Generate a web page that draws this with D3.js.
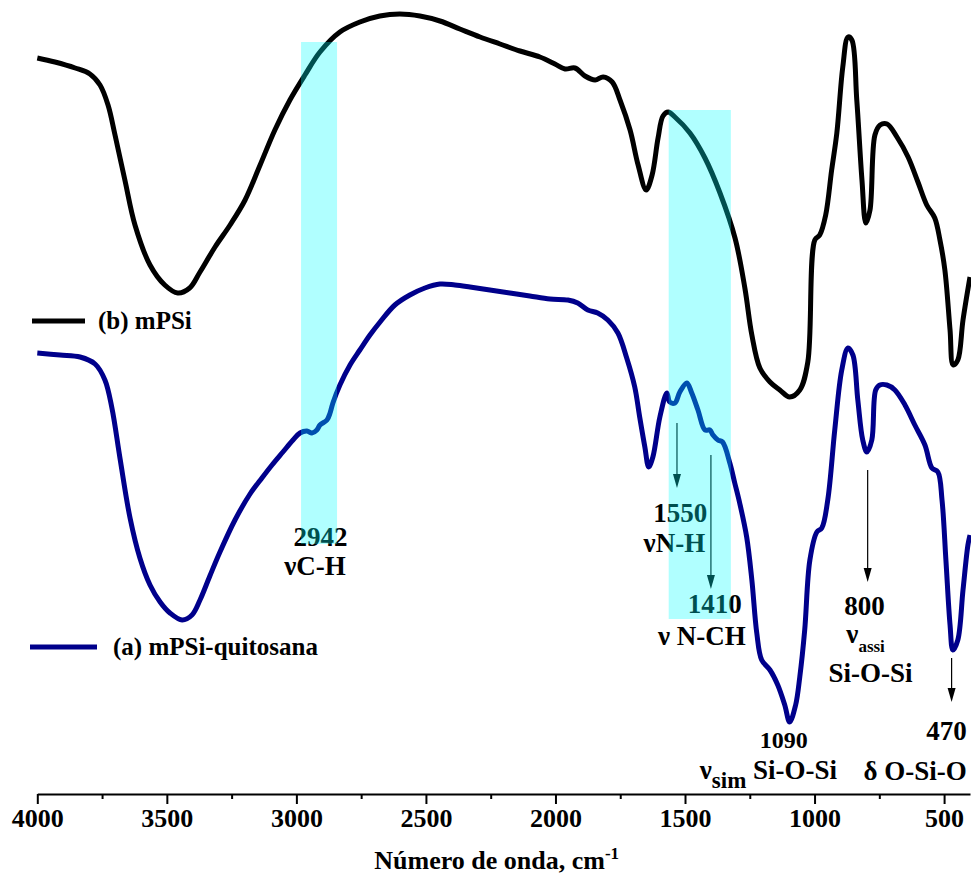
<!DOCTYPE html>
<html>
<head>
<meta charset="utf-8">
<script src="https://cdn.jsdelivr.net/npm/d3@7"></script>
<style>
  body { margin: 0; background: #fff; }
  svg text { font-family: "Liberation Serif", "Times New Roman", serif; font-weight: bold; }
</style>
</head>
<body>
<div id="chart"></div>
<script>
// wavenumber (cm-1) and transmittance (a.u.)
const wnB = [4000,3932,3854,3797,3758,3727,3700,3662,3623,3565,3508,3458,3412,3372,3314,3256,3198,3140,3083,3025,2967,2909,2832,2755,2678,2601,2523,2446,2369,2291,2214,2137,2060,2002,1963,1925,1886,1847,1816,1781,1751,1712,1681,1650,1627,1604,1585,1565,1539,1481,1423,1365,1307,1269,1242,1211,1172,1134,1096,1057,1026,999,980,957,934,914,891,871,856,837,817,802,786,767,747,720,682,639,601,567,536,516,497,477,465,447,427,400];
const tB = [73.6,73.2,72.6,72.0,70.9,68.9,65.9,61.4,56.9,52.9,50.9,50.1,50.6,52.2,54.7,56.9,59.4,62.9,66.4,69.4,71.9,74.2,76.2,77.2,77.8,78.0,77.8,77.3,76.5,75.7,75.0,74.3,73.7,73.0,72.5,72.6,71.8,71.4,71.7,71.2,69.4,66.4,62.9,60.4,61.9,65.6,67.8,68.2,67.7,66.1,63.6,60.1,55.6,50.6,45.9,42.6,41.2,40.4,39.7,40.4,43.2,55.4,55.9,57.9,62.4,66.1,72.7,75.7,75.4,69.4,61.4,57.1,58.4,65.9,66.9,67.0,65.7,63.7,61.2,58.9,57.6,55.4,52.4,46.4,42.9,43.4,47.4,51.7];

const wnA = [4000,3912,3835,3777,3739,3712,3681,3642,3604,3565,3526,3488,3441,3403,3372,3334,3295,3237,3179,3133,3094,3052,3013,2986,2959,2940,2921,2909,2882,2870,2859,2832,2793,2755,2716,2677,2620,2562,2504,2446,2388,2330,2253,2176,2099,2021,1952,1914,1875,1837,1798,1759,1725,1694,1675,1655,1640,1624,1597,1570,1559,1539,1520,1493,1474,1450,1423,1404,1392,1373,1355,1327,1308,1289,1262,1242,1223,1204,1172,1142,1115,1096,1073,1057,1038,1018,991,972,949,922,895,871,852,833,814,798,779,764,748,721,690,651,613,574,547,524,508,493,477,466,447,427,408,400];
const tA = [44.1,43.9,43.7,43.0,41.4,38.6,33.6,27.6,23.6,20.9,19.2,18.1,17.4,17.9,19.4,21.8,24.2,27.4,30.0,31.6,32.9,34.2,35.4,36.1,36.3,36.1,36.4,36.9,37.4,38.1,39.1,40.9,42.9,44.4,45.9,47.2,48.9,49.9,50.6,51.0,50.9,50.7,50.4,50.1,49.8,49.5,49.4,49.1,48.4,48.1,47.4,46.1,43.6,40.7,37.7,34.7,32.7,33.7,37.7,40.1,39.2,39.1,40.2,41.1,40.1,38.4,36.4,36.4,35.9,35.4,35.2,33.1,31.1,29.1,25.7,21.4,16.1,13.4,12.4,10.9,8.9,7.2,8.9,11.7,16.4,23.4,26.2,26.6,29.4,36.4,42.4,44.6,43.9,39.4,35.4,34.2,35.4,40.4,40.9,40.9,40.4,38.9,36.9,34.9,32.6,32.2,29.4,23.4,16.9,14.4,15.4,20.4,24.9,25.9];

const majorTicks = [4000,3500,3000,2500,2000,1500,1000,500];
const minorTicks = [3750,3250,2750,2250,1750,1250,750];

// highlighted bands [from, to, bottom, top]
const bands = [[2982, 2843, 25.0, 75.2], [1563, 1323, 17.5, 68.4]];

// arrows: wavenumber, start value, tip value
const arrows = [[1531, 37.1, 30.6], [1400, 33.9, 20.5], [795, 32.4, 21.2], [471, 13.6, 9.2]];

// labels: wavenumber (centre), value (baseline), size, main text, subscript, sub size, rest
const labels = [
  [2907, 24.8, 27, "2942", "", 0, ""],
  [2928, 21.9, 27, "\u03bdC-H", "", 0, ""],
  [1518, 27.2, 27, "1550", "", 0, ""],
  [1541, 24.2, 27, "\u03bdN-H", "", 0, ""],
  [1385, 18.1, 27, "1410", "", 0, ""],
  [1435, 14.9, 27, "\u03bd N-CH", "", 0, ""],
  [807, 17.9, 27, "800", "", 0, ""],
  [803, 15.1, 27, "\u03bd", "assi", 17, ""],
  [784, 11.2, 27, "Si-O-Si", "", 0, ""],
  [1119, 4.6, 24, "1090", "", 0, ""],
  [1178, 1.5, 27, "\u03bd", "sim", 23, " Si-O-Si"],
  [491, 5.4, 27, "470", "", 0, ""],
  [612, 1.4, 27, "\u03b4 O-Si-O", "", 0, ""]
];

const width = 971, height = 880;
const svg = d3.select('#chart').append('svg')
  .attr('width', width).attr('height', height);

const x = d3.scaleLinear().domain([4000, 400]).range([37.3, 970]);
const y = d3.scaleLinear().domain([0, 78]).range([794, 14]);

const line = d3.line()
  .x(d => x(d[0])).y(d => y(d[1]))
  .curve(d3.curveCatmullRom.alpha(0.5));

svg.append('path')
  .datum(d3.zip(wnB, tB))
  .attr('d', line)
  .attr('fill', 'none').attr('stroke', '#000').attr('stroke-width', 5)
  .attr('stroke-linejoin', 'round');

svg.append('path')
  .datum(d3.zip(wnA, tA))
  .attr('d', line)
  .attr('fill', 'none').attr('stroke', '#00008b').attr('stroke-width', 5)
  .attr('stroke-linejoin', 'round');

// axis
const axis = svg.append('g').attr('transform', 'translate(0,794)')
  .call(d3.axisBottom(x).tickValues(majorTicks).tickFormat(d3.format('d'))
    .tickSize(10).tickSizeOuter(0).tickPadding(5));
axis.select('.domain').attr('stroke-width', 2);
axis.selectAll('.tick line').attr('stroke-width', 2);
axis.selectAll('.tick text').attr('font-size', 26).attr('font-family', '"Liberation Serif", serif')
  .attr('font-weight', 'bold').attr('fill', '#000');

svg.append('g').attr('transform', 'translate(0,794)')
  .call(d3.axisBottom(x).tickValues(minorTicks).tickSize(5).tickSizeOuter(0).tickFormat(''))
  .call(g => g.select('.domain').remove())
  .call(g => g.selectAll('.tick line').attr('stroke-width', 2));

const title = svg.append('text')
  .attr('x', (x(4000) + x(400)) / 2 - 7).attr('y', 869)
  .attr('text-anchor', 'middle').attr('font-size', 26);
title.append('tspan').text('Número de onda, cm');
title.append('tspan').attr('dy', -10).attr('font-size', 17).text('-1');

// legend
const legend = [["(b) mPSi", "#000", 32, 85, 321, 98], ["(a) mPSi-quitosana", "#00008b", 30, 97, 647, 113]];
legend.forEach(l => {
  svg.append('line').attr('x1', l[2]).attr('x2', l[3]).attr('y1', l[4]).attr('y2', l[4])
    .attr('stroke', l[1]).attr('stroke-width', 5);
  svg.append('text').attr('x', l[5]).attr('y', l[4] + 8).attr('font-size', 25).text(l[0]);
});

// labels
labels.forEach(d => {
  const t = svg.append('text').attr('x', x(d[0])).attr('y', y(d[1]))
    .attr('text-anchor', 'middle').attr('font-size', d[2]);
  t.append('tspan').text(d[3]);
  if (d[4]) {
    t.append('tspan').attr('dy', 9).attr('font-size', d[5]).text(d[4]);
    if (d[6]) t.append('tspan').attr('dy', -9).text(d[6]);
  }
});

// arrows
arrows.forEach(a => {
  const ax = x(a[0]), y0 = y(a[1]), y1 = y(a[2]);
  svg.append('line').attr('x1', ax).attr('x2', ax).attr('y1', y0).attr('y2', y1 - 13)
    .attr('stroke', '#000').attr('stroke-width', 1.2);
  svg.append('path')
    .attr('d', `M${ax - 4},${y1 - 14}L${ax + 4},${y1 - 14}L${ax},${y1}Z`)
    .attr('fill', '#000');
});

// bands on top
svg.selectAll('.band').data(bands).enter().append('rect')
  .attr('class', 'band')
  .attr('x', d => x(d[0])).attr('width', d => x(d[1]) - x(d[0]))
  .attr('y', d => y(d[3])).attr('height', d => y(d[2]) - y(d[3]))
  .attr('fill', '#00ffff').attr('fill-opacity', 0.31);
</script>
</body>
</html>
